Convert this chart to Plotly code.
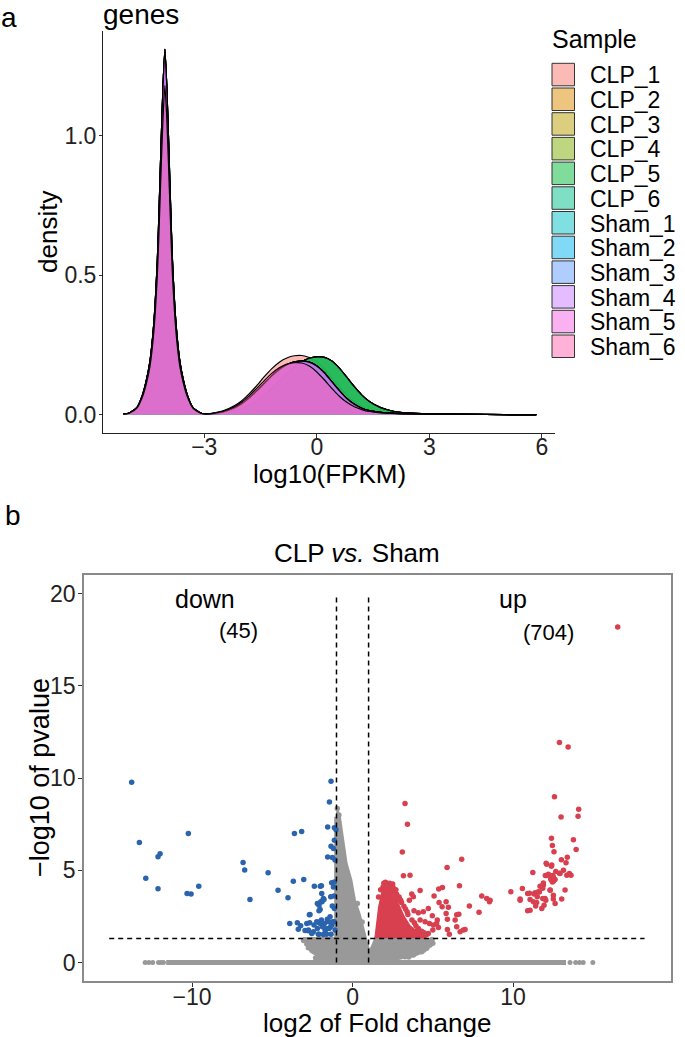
import plotly.graph_objects as go

W, H = 685, 1037
FONT = "Liberation Sans, Arial, Helvetica, sans-serif"

# ---------------- panel a : density of log10(FPKM) ----------------
samples = ["CLP_1", "CLP_2", "CLP_3", "CLP_4", "CLP_5", "CLP_6",
           "Sham_1", "Sham_2", "Sham_3", "Sham_4", "Sham_5", "Sham_6"]
sample_colors = ["#F8766D", "#DE8C00", "#B79F00", "#7CAE00", "#00BA38", "#00C08B",
                 "#00BFC4", "#00B4F0", "#619CFF", "#C77CFF", "#F564E3", "#FF64B0"]

log_fpkm = [-5.15, -5.0, -4.8, -4.65, -4.55, -4.45, -4.35, -4.25, -4.2, -4.15, -4.1, -4.05,
            -4.0, -3.95, -3.9, -3.85, -3.75, -3.65, -3.55, -3.45, -3.3, -3.1, -2.95,
            -2.8, -2.5, -2.2, -2.0, -1.8, -1.6, -1.4, -1.2, -1.0, -0.8, -0.6, -0.4, -0.2,
            0.0, 0.2, 0.4, 0.6, 0.8, 1.0, 1.2, 1.4, 1.7, 2.0, 2.4, 3.0, 4.0, 5.0, 5.85]

peak_tall = [0.002, 0.006, 0.025, 0.07, 0.12, 0.19, 0.32, 0.56, 0.76, 0.98, 1.18, 1.31,
             1.18, 0.98, 0.76, 0.56, 0.32, 0.19, 0.12, 0.07, 0.025, 0.006, 0.002]
peak_short = [0.002, 0.005, 0.022, 0.063, 0.108, 0.171, 0.288, 0.504, 0.684, 0.882, 1.062, 1.18,
              1.062, 0.882, 0.684, 0.504, 0.288, 0.171, 0.108, 0.063, 0.022, 0.005, 0.002]

bump_sham6 = [0.004, 0.012, 0.028, 0.045, 0.068, 0.094, 0.122, 0.148, 0.168, 0.181, 0.186, 0.185,
              0.174, 0.153, 0.125, 0.094, 0.066, 0.044, 0.028, 0.018, 0.011, 0.006, 0.004, 0.002,
              0.001, 0.0005, 0.0002, 0.0001]
bump_sham = [0.003, 0.01, 0.024, 0.039, 0.06, 0.085, 0.112, 0.139, 0.162, 0.179, 0.189, 0.192,
             0.188, 0.174, 0.15, 0.118, 0.086, 0.058, 0.037, 0.023, 0.014, 0.008, 0.005, 0.003,
             0.0015, 0.0006, 0.0002, 0.0001]
bump_clp_left = [0.005, 0.014, 0.032, 0.05, 0.075, 0.104, 0.136, 0.165, 0.188, 0.203, 0.211, 0.212,
                 0.205, 0.19, 0.165, 0.133, 0.1, 0.07, 0.046, 0.029, 0.018, 0.01, 0.006, 0.003,
                 0.0015, 0.0006, 0.0002, 0.0001]
bump_clp_right = [0.002, 0.006, 0.014, 0.022, 0.034, 0.05, 0.07, 0.094, 0.12, 0.147, 0.171, 0.19,
                  0.202, 0.207, 0.205, 0.192, 0.167, 0.134, 0.1, 0.07, 0.047, 0.025, 0.013, 0.006,
                  0.0025, 0.0008, 0.0003, 0.0001]

density = {
    "CLP_1": peak_short + bump_clp_left,
    "CLP_2": peak_short + bump_clp_right,
    "CLP_3": peak_short + bump_clp_right,
    "CLP_4": peak_short + bump_clp_right,
    "CLP_5": peak_short + bump_clp_right,
    "CLP_6": peak_short + bump_clp_right,
    "Sham_1": peak_tall + bump_sham,
    "Sham_2": peak_tall + bump_sham,
    "Sham_3": peak_tall + bump_sham,
    "Sham_4": peak_tall + bump_sham,
    "Sham_5": peak_tall + bump_sham,
    "Sham_6": peak_short + bump_sham6,
}

density_xticks = [-3, 0, 3, 6]
density_yticks = [0.0, 0.5, 1.0]
density_yticklabels = ["0.0", "0.5", "1.0"]

# ---------------- panel b : volcano ----------------
down_x = [-13.76, -13.28, -12.88, -12.12, -11.99, -12.12, -10.23, -10.31, -10.06, -9.58,
          -6.82, -6.72, -6.39, -5.26, -4.64, -4.02, -3.69, -3.62, -3.17, -3.04,
          -3.91, -3.44, -3.23, -3.38, -2.69, -2.67, -2.96, -2.77, -2.38, -2.01, -1.94,
          -1.34, -1.44, -1.55, -1.13, -1.03, -1.34, -1.19, -1.13, -1.55, -1.26, -1.09,
          -1.30, -1.13, -1.19, -1.36, -1.15, -1.92, -1.82, -1.98, -2.09, -1.26, -1.13,
          -2.65, -2.23, -2.02, -1.76, -1.51, -1.30, -1.13, -2.85, -2.75, -2.44, -2.13,
          -1.82, -1.61, -1.34, -1.09, -1.46, -1.71, -2.13, -1.94, -1.78, -1.57, -1.40,
          -1.26, -1.88, -1.61, -1.36, -2.19, -2.40, -1.67, -2.09, -2.54, -2.19, -1.90,
          -1.78, -2.09, -2.02]
down_y = [9.77, 6.50, 4.57, 5.73, 5.89, 4.00, 6.99, 3.74, 3.72, 4.14,
          5.42, 5.02, 3.42, 4.86, 3.92, 3.51, 4.41, 6.99, 7.10, 4.50,
          2.12, 2.15, 1.99, 1.80, 2.59, 2.15, 1.74, 1.72, 4.14, 4.14, 4.16,
          9.82, 8.70, 7.35, 7.31, 7.20, 6.30, 6.18, 6.63, 5.72, 5.69, 5.55,
          4.32, 4.37, 4.10, 3.56, 3.60, 3.74, 3.47, 3.29, 3.11, 3.06, 2.93,
          2.61, 2.21, 2.12, 2.12, 2.21, 2.03, 2.21, 2.12, 1.76, 1.67, 1.54,
          1.52, 1.54, 1.54, 1.76, 1.85, 1.76, 2.19, 2.30, 2.12, 2.34, 2.48,
          2.21, 1.94, 1.85, 1.94, 1.85, 2.03, 1.58, 1.54, 1.58, 3.20, 3.29,
          3.42, 2.80, 2.88]

up_x = [3.27, 3.42, 3.10, 3.17, 3.58, 5.89, 6.80, 6.66, 5.37, 5.60, 4.21, 5.08, 3.69, 3.79,
        3.54, 3.00, 5.39, 5.83, 5.58, 5.97, 4.72, 3.83, 4.10, 4.41, 4.97, 5.83, 6.49, 6.62,
        5.91, 6.39, 5.28, 5.24, 4.21, 4.52, 4.79, 5.04, 5.91, 6.49, 7.01, 6.03, 6.70, 6.90,
        4.06, 4.41, 4.72, 5.00, 5.35, 3.89, 4.21, 7.28, 7.88, 8.05, 8.36, 8.57, 8.53,
        9.86, 10.58, 10.44, 11.23, 10.91, 11.06, 11.31, 10.91, 11.41, 11.47, 11.79, 11.93,
        11.85, 11.58, 11.68, 11.89, 12.10, 12.37, 12.51, 12.47, 12.06, 12.41, 12.66, 12.89,
        12.31, 12.51, 12.04, 12.62, 11.27, 11.06,
        16.52, 12.89, 13.43, 12.58, 14.09, 14.05, 12.99, 12.39, 12.45, 12.55, 13.76, 13.93,
        13.01, 13.38, 13.30, 12.10, 12.39, 12.01, 12.20, 12.93, 13.14, 13.35, 13.61, 13.51,
        12.35, 12.45, 12.62, 12.51, 11.79, 11.89, 11.85, 12.31, 13.24, 11.02, 11.37, 11.64,
        11.51, 11.99, 12.51, 13.03, 10.44,
        1.62, 1.75, 1.95, 2.05, 2.3, 2.5, 2.7, 2.9, 3.05, 3.3, 3.45, 3.7, 3.95, 4.3, 4.6,
        1.9, 2.15, 2.45, 2.75, 2.95, 3.2, 3.4, 3.85, 4.1, 4.45]
up_y = [8.62, 7.49, 5.99, 4.70, 4.73, 5.15, 5.60, 4.16, 3.98, 4.07, 3.90, 3.60, 3.71, 3.57,
        3.38, 3.38, 3.26, 3.29, 3.03, 3.00, 2.93, 2.81, 2.70, 2.75, 2.53, 2.66, 2.59, 2.62,
        2.34, 2.30, 2.30, 2.12, 2.30, 2.21, 2.12, 2.03, 1.79, 1.94, 1.79, 1.54, 1.67, 1.76,
        1.76, 1.58, 1.58, 1.76, 1.90, 1.49, 1.49, 3.06, 2.72, 3.60, 3.47, 3.38, 3.29,
        3.83, 4.01, 3.38, 4.88, 3.74, 3.42, 3.71, 2.81, 3.06, 3.26, 2.93, 3.11,
        3.47, 3.83, 4.13, 4.31, 4.72, 4.49, 4.40, 4.72, 5.38, 5.29, 4.93, 4.84,
        3.92, 3.65, 3.38, 3.20, 3.29, 2.84,
        18.18, 11.92, 11.68, 8.99, 8.30, 7.93, 7.89, 6.74, 6.34, 6.00, 6.66, 6.12,
        5.57, 5.70, 5.41, 5.33, 5.22, 4.71, 4.79, 4.82, 5.00, 4.73, 4.73, 4.82,
        4.55, 4.37, 4.50, 4.64, 4.14, 4.20, 4.02, 3.93, 3.93, 3.75, 3.78, 3.82,
        3.56, 3.47, 3.44, 3.44, 3.44,
        3.55, 3.95, 4.3, 4.35, 4.3, 4.25, 3.95, 3.55, 3.25, 2.9, 2.6, 2.3, 2.0, 1.7, 1.5,
        4.1, 4.28, 4.15, 3.7, 3.4, 3.05, 2.75, 2.15, 1.85, 1.62]

# dense red cloud outline (points too dense to separate)
up_cloud_x = [1.45, 1.55, 1.68, 1.85, 2.0, 2.25, 2.6, 2.75, 2.8, 3.15, 3.55, 4.0, 4.4, 4.5]
up_cloud_y = [1.32, 2.2, 3.0, 3.7, 4.1, 4.2, 4.1, 3.6, 3.2, 2.5, 1.95, 1.65, 1.4, 1.32]

# dense grey cloud outline (non-significant genes)
ns_cloud_x = [-1.0, -0.95, -0.82, -0.62, -0.4, -0.1, 0.12, 0.4, 0.62, 0.78, 1.05, 1.45,
              4.5, 4.8, 4.8, 4.5, 3.8, 3.0, 2.2, 1.8, -2.0, -2.2, -2.6, -2.85, -2.95, -1.05, -1.05]
ns_cloud_y = [8.2, 8.2, 7.9, 6.81, 5.37, 4.46, 3.38, 2.66, 1.93, 1.30, 0.5, 1.30,
              1.30, 1.15, 0.9, 0.62, 0.38, 0.24, 0.1, 0.0, 0.0, 0.4, 0.62, 1.1, 1.3, 1.3, 7.9]
ns_x = [-2.6, -2.4, -2.0, -2.19, -1.78, -1.5, 4.52, 4.83, 4.62, 3.79, 3.27, 4.31,
        -0.95, -0.85, -0.9, -2.85, -2.75, -0.6, 0.3, 0.6, 5.0, 4.95, 3.5, 2.6, -3.05, -2.3]
ns_y = [1.12, 0.68, 0.41, 0.86, 1.04, 0.59, 1.22, 0.95, 0.77, 0.41, 0.32, 0.59,
        8.35, 8.0, 7.6, 1.0, 0.8, 6.0, 3.2, 2.2, 1.05, 1.25, 0.3, 0.2, 1.2, 0.25]

# genes with pvalue = 1 (-log10 = 0): continuous run plus separate points at the ends
zero_run_x = [-11.61, 13.3]
zero_run_y = [0, 0]
zero_end_x = [-12.92, -12.69, -12.45, -12.09, -11.93, -11.78, 13.55, 13.9, 14.14, 14.37, 14.97]
zero_end_y = [0, 0, 0, 0, 0, 0, 0, 0, 0, 0, 0]

fc_cut = [-1, 1]
fc_cut_span = [0, 20]
p_cut = 1.3
p_cut_span = [-15.16, 18.19]

volcano_xticks = [-10, 0, 10]
volcano_yticks = [0, 5, 10, 15, 20]
n_down, n_up = 45, 704

COL_DOWN = "#2C63AD"
COL_UP = "#D8404F"
COL_NS = "#999999"


def rgba(hexcol, a):
    h = hexcol.lstrip("#")
    return "rgba(%d,%d,%d,%.2f)" % (int(h[0:2], 16), int(h[2:4], 16), int(h[4:6], 16), a)


def px(x):
    return x / W


def py(y):
    return 1 - y / H


fig = go.Figure()

# density areas
for name, col in zip(samples, sample_colors):
    fig.add_trace(go.Scatter(
        x=log_fpkm, y=density[name], mode="lines", name=name,
        line=dict(color="black", width=1.2, shape="spline", smoothing=0.6),
        fill="tozeroy", fillcolor=rgba(col, 0.5),
        xaxis="x", yaxis="y", showlegend=False, hoverinfo="skip"))

# volcano
fig.add_trace(go.Scatter(x=zero_run_x, y=zero_run_y, mode="lines",
                         line=dict(color=COL_NS, width=5), xaxis="x2", yaxis="y2",
                         showlegend=False, hoverinfo="skip"))
fig.add_trace(go.Scatter(x=zero_end_x, y=zero_end_y, mode="markers",
                         marker=dict(color=COL_NS, size=5), xaxis="x2", yaxis="y2",
                         showlegend=False, hoverinfo="skip"))
fig.add_trace(go.Scatter(x=ns_cloud_x, y=ns_cloud_y, mode="lines", fill="toself",
                         fillcolor=COL_NS, line=dict(color=COL_NS, width=3),
                         xaxis="x2", yaxis="y2", showlegend=False, hoverinfo="skip"))
fig.add_trace(go.Scatter(x=ns_x, y=ns_y, mode="markers",
                         marker=dict(color=COL_NS, size=5.5), xaxis="x2", yaxis="y2",
                         showlegend=False, hoverinfo="skip"))
fig.add_trace(go.Scatter(x=up_cloud_x, y=up_cloud_y, mode="lines", fill="toself",
                         fillcolor=COL_UP, line=dict(color=COL_UP, width=3),
                         xaxis="x2", yaxis="y2", showlegend=False, hoverinfo="skip"))
fig.add_trace(go.Scatter(x=up_x, y=up_y, mode="markers",
                         marker=dict(color=COL_UP, size=5.5), xaxis="x2", yaxis="y2",
                         showlegend=False, hoverinfo="skip"))
fig.add_trace(go.Scatter(x=down_x, y=down_y, mode="markers",
                         marker=dict(color=COL_DOWN, size=5.5), xaxis="x2", yaxis="y2",
                         showlegend=False, hoverinfo="skip"))

# threshold lines
for v in fc_cut:
    fig.add_trace(go.Scatter(x=[v, v], y=fc_cut_span, mode="lines",
                             line=dict(color="black", width=1.5, dash="5px,4px"),
                             xaxis="x2", yaxis="y2", showlegend=False, hoverinfo="skip"))
fig.add_trace(go.Scatter(x=p_cut_span, y=[p_cut, p_cut], mode="lines",
                         line=dict(color="black", width=1.5, dash="5px,4px"),
                         xaxis="x2", yaxis="y2", showlegend=False, hoverinfo="skip"))

tickfont = dict(family=FONT, size=23, color="#222222")

fig.update_layout(
    width=W, height=H, margin=dict(l=0, r=0, t=0, b=0),
    paper_bgcolor="white", plot_bgcolor="white",
    font=dict(family=FONT, color="black"),
    showlegend=False,
    xaxis=dict(domain=[px(103), px(555)], range=[-5.7, 6.35], anchor="y",
               tickvals=density_xticks, showgrid=False, zeroline=False,
               showline=True, linecolor="#222222", linewidth=1,
               ticks="outside", ticklen=4, tickcolor="#333333", tickwidth=1,
               tickfont=tickfont, ticklabelstandoff=-11),
    yaxis=dict(domain=[py(433), py(31)], range=[-0.066, 1.376], anchor="x",
               tickvals=density_yticks, ticktext=density_yticklabels,
               showgrid=False, zeroline=False,
               showline=True, linecolor="#222222", linewidth=1,
               ticks="outside", ticklen=3, tickcolor="#333333", tickwidth=1,
               tickfont=tickfont, ticklabelstandoff=-2),
    xaxis2=dict(domain=[px(84), px(671)], range=[-16.73, 19.84], anchor="y2",
                tickvals=volcano_xticks, showgrid=False, zeroline=False,
                showline=True, mirror=True, linecolor="#8a8a8a", linewidth=1.5,
                ticks="outside", ticklen=4, tickcolor="#333333", tickwidth=1,
                tickfont=tickfont, ticklabelstandoff=-9),
    yaxis2=dict(domain=[py(981), py(575)], range=[-1, 21], anchor="x2",
                tickvals=volcano_yticks, showgrid=False, zeroline=False,
                showline=True, mirror=True, linecolor="#8a8a8a", linewidth=1.5,
                ticks="outside", ticklen=4, tickcolor="#333333", tickwidth=1,
                tickfont=tickfont, ticklabelstandoff=-2),
)

ann = []


def text(x, y, s, size, xanchor="center", yanchor="middle", angle=0, color="black",
         xref="paper", yref="paper", yshift=0):
    ann.append(dict(x=x, y=y, xref=xref, yref=yref, text=s, showarrow=False,
                    xanchor=xanchor, yanchor=yanchor, textangle=angle, yshift=yshift,
                    borderpad=0, font=dict(family=FONT, size=size, color=color)))


# panel labels and titles
text(px(0), py(17), "a", 28, xanchor="left")
text(px(4), py(515), "b", 28, xanchor="left")
text(px(102), py(0), "genes", 28, xanchor="left", yanchor="top", yshift=2)
text(px(48), py(232), "density", 26, angle=-90)
text(px(329), py(474), "log10(FPKM)", 26)

# legend (manual, ggplot style)
text(px(551), py(39), "Sample", 25, xanchor="left")
shapes = []
key_top, key_step, key_size = 63.3, 24.7, 22.5
for i, (name, col) in enumerate(zip(samples, sample_colors)):
    y0 = key_top + i * key_step
    shapes.append(dict(type="rect", xref="paper", yref="paper",
                       x0=px(552), x1=px(552 + key_size), y0=py(y0 + key_size), y1=py(y0),
                       fillcolor=rgba(col, 0.5), line=dict(color="#333333", width=1)))
    text(px(589), py(y0 + key_size / 2 + 0.8), name, 23, xanchor="left")

# volcano texts
text(px(357), py(553), "CLP <i>vs.</i> Sham", 26)
text(px(40), py(778), "\u2212log10 of pvalue", 27, angle=-90)
text(px(377), py(1023), "log2 of Fold change", 26)
text(-9.17, 19.7, "down", 25, xref="x2", yref="y2")
text(10.0, 19.7, "up", 25, xref="x2", yref="y2")
text(-7.13, 18.0, "(%d)" % n_down, 22, xref="x2", yref="y2")
text(12.2, 17.9, "(%d)" % n_up, 22, xref="x2", yref="y2")

fig.update_layout(annotations=ann, shapes=shapes)

fig.write_html("out.html", config={"displayModeBar": False},
               post_script="document.body.style.margin='0';document.body.style.overflow='hidden';")
